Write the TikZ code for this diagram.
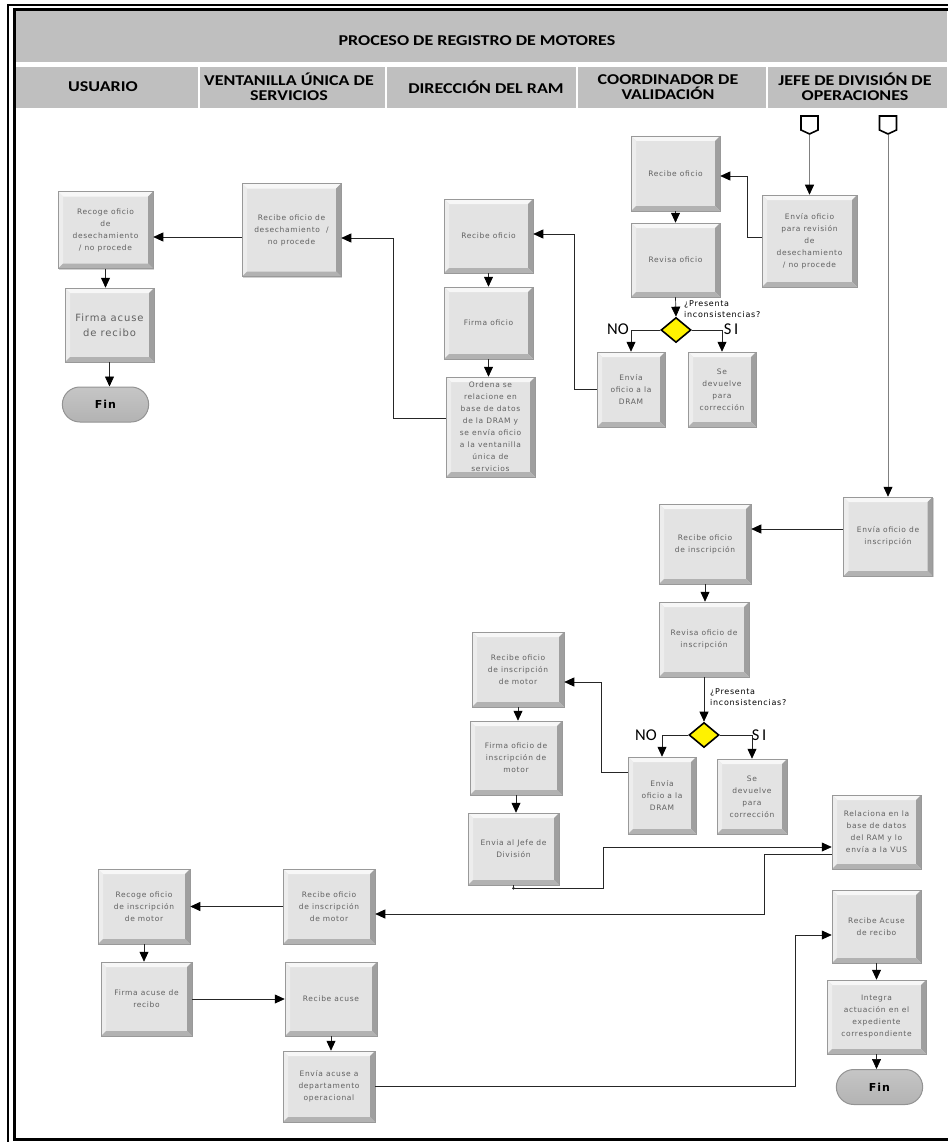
\documentclass[tikz,border=0pt]{standalone}
\usepackage{fontspec}
\newfontfamily\boxfont[LetterSpace=9]{DejaVu Sans}
\newfontfamily\headfont[FakeStretch=1.2]{Carlito}
\newfontfamily\sifont{Carlito}
\usetikzlibrary{positioning,calc,arrows.meta,shapes.geometric,shapes.misc,shapes.symbols,shadows}

\tikzset{
  bevel/.style={path picture={
    \path (path picture bounding box.south west) coordinate (bsw)
          (path picture bounding box.north east) coordinate (bne)
          (path picture bounding box.north west) coordinate (bnw)
          (path picture bounding box.south east) coordinate (bse);
    \fill[gray!6]  (bnw) -- (bne) -- ([shift={(-5pt,-5pt)}]bne) -- ([shift={(5pt,-5pt)}]bnw) -- cycle;
    \fill[gray!14] (bnw) -- (bsw) -- ([shift={(5pt,5pt)}]bsw) -- ([shift={(5pt,-5pt)}]bnw) -- cycle;
    \fill[gray!75] (bne) -- (bse) -- ([shift={(-5pt,5pt)}]bse) -- ([shift={(-5pt,-5pt)}]bne) -- cycle;
    \fill[gray!60] (bsw) -- (bse) -- ([shift={(-5pt,5pt)}]bse) -- ([shift={(5pt,5pt)}]bsw) -- cycle;
  }},
  proc/.style={rectangle, bevel, fill=gray!22, draw=gray!80, line width=.5pt,
    text=black!62, align=center, inner sep=1pt,
    font=\boxfont\fontsize{7.5}{12}\selectfont,
    drop shadow={shadow xshift=1.2pt, shadow yshift=-1.2pt, fill=gray!80, opacity=.45}},
  finbox/.style={rounded rectangle, draw=gray!85, line width=1pt,
    top color=gray!45, middle color=gray!4, bottom color=gray!60,
    font=\boxfont\bfseries\fontsize{11}{13}\selectfont,
    minimum width=93, minimum height=35},
  decision/.style={diamond, aspect=1.2, fill=yellow, draw=black, line width=1.6pt,
    minimum width=30, minimum height=25, inner sep=0},
  offpage/.style={signal, signal to=south, signal pointer angle=130, draw=black,
    line width=1.6pt, fill=white, minimum width=17, minimum height=14, inner sep=0},
  flow/.style={draw=black!85, line width=.7pt, -{Triangle[length=10pt,width=9pt,color=black]}},
  feed/.style={flow, draw=black!50},
  asklbl/.style={font=\boxfont\fontsize{8}{10.5}\selectfont, align=left, inner sep=0, text=black},
  yesno/.style={font=\sifont\fontsize{16.5}{17}\selectfont, inner sep=0},
  headtxt/.style={font=\headfont\bfseries\fontsize{15}{15}\selectfont, align=center, text=black}
}

\begin{document}
\begin{tikzpicture}[x=1pt,y=-1pt]
\useasboundingbox (0,0) rectangle (947,1142);
% marco y encabezado
\draw[line width=2pt] (960,5) -- (8,5) -- (8,1150);
\draw[line width=3pt] (960,9.5) -- (14,9.5) -- (14,1139) -- (960,1139);
\fill[gray!50] (15.5,11) rectangle (947,62);
\fill[gray!50] (15.5,67) rectangle (947,108);
\foreach \x in {199,386,577,767}
  \draw[white, line width=2.5pt] (\x,67) -- (\x,108);
\node[headtxt] (title) at (477,41) {PROCESO DE REGISTRO DE MOTORES};
\node[headtxt] (hUsu) at (103,87) {USUARIO};
\node[headtxt] (hVus) at (289,87) {VENTANILLA ÚNICA DE\\SERVICIOS};
\node[headtxt] (hRam) at (486,87) {DIRECCIÓN DEL RAM};
\node[headtxt] (hCoo) at (668,87) {COORDINADOR DE\\VALIDACIÓN};
\node[headtxt] (hJef) at (855,87) {JEFE DE DIVISIÓN DE\\OPERACIONES};

% desechamiento / no procede
\node[offpage] (startA) at (809.5,123) {};
\node[offpage] (startB) at (888,123) {};
\node[proc, minimum width=95, minimum height=92] (envjefeA) at (809.5,241) {Envía oficio\\para revisión\\de\\desechamiento\\/ no procede};
\node[proc, minimum width=89, minimum height=75] (reccoordA) at (675.5,173.5) {Recibe oficio};
\node[proc, minimum width=89, minimum height=74] (revcoordA) at (675.5,260) {Revisa oficio};
\node[decision] (decA) at (676,330) {};
\node[asklbl, anchor=west] (askA) at (684,309) {¿Presenta\\inconsistencias?};
\node[yesno] (noA) at (618,329) {NO};
\node[yesno] (siA) at (731,329) {S\,I};
\node[proc, minimum width=68, minimum height=75] (envdramA) at (631,389.5) {Envía\\oficio a la\\DRAM};
\node[proc, minimum width=68, minimum height=75] (devA) at (722,389.5) {Se\\devuelve\\para\\corrección};
\node[proc, minimum width=89, minimum height=74] (recdramA) at (488.5,236) {Recibe oficio};
\node[proc, minimum width=89, minimum height=72] (firdramA) at (488.5,323) {Firma oficio};
\node[proc, minimum width=89, minimum height=100] (ordena) at (490.5,427) {Ordena se\\relacione en\\base de datos\\de la DRAM y\\se envía oficio\\a la ventanilla\\única de\\servicios};
\node[proc, minimum width=99, minimum height=93] (recvusA) at (291.5,230) {Recibe oficio de\\desechamiento~~/\\no procede};
\node[proc, minimum width=95, minimum height=77] (recogeA) at (105.5,230) {Recoge oficio\\de\\desechamiento\\/ no procede};
\node[proc, minimum width=89, minimum height=74, font=\boxfont\fontsize{10}{15}\selectfont] (firmaA) at (109.5,325) {Firma acuse\\de recibo};
\node[finbox] (finA) at (105.5,404.5) {Fin};

\draw[feed] (startA.south) -- (envjefeA.north);
\draw[flow] ([yshift=4pt]envjefeA.west) -- ++(-14,0) |- ([yshift=-2.5pt]reccoordA.east);
\draw[flow] (reccoordA.south) -- (revcoordA.north);
\draw[flow] (revcoordA.south) -- (decA.north);
\draw[flow] (decA.west) -| (envdramA.north);
\draw[flow] (decA.east) -| (devA.north);
\draw[flow] (envdramA.west) -- ++(-22,0) |- ([yshift=2pt]recdramA.east);
\draw[flow] (recdramA.south) -- (firdramA.north);
\draw[flow] (firdramA.south) -- (firdramA.south |- ordena.north);
\draw[flow] ([yshift=9pt]ordena.west) -- ++(-52,0) |- ([yshift=-8pt]recvusA.east);
\draw[flow] ([yshift=-7pt]recvusA.west) -- ([yshift=-7pt]recogeA.east);
\draw[flow] (recogeA.south) -- (recogeA.south |- firmaA.north);
\draw[flow] (firmaA.south) -- (firmaA.south |- finA.north);

% inscripcion de motor
\node[proc, minimum width=89, minimum height=79] (envinsc) at (888,536.5) {Envía oficio de\\inscripción};
\node[proc, minimum width=92, minimum height=80] (recinsc) at (705,544) {Recibe oficio\\de inscripción};
\node[proc, minimum width=90, minimum height=75] (revinsc) at (704,639.5) {Revisa oficio de\\inscripción};
\node[decision] (decB) at (704,735) {};
\node[asklbl, anchor=west] (askB) at (710,697) {¿Presenta\\inconsistencias?};
\node[yesno] (noB) at (646,735) {NO};
\node[yesno] (siB) at (759,735) {S\,I};
\node[proc, minimum width=68, minimum height=77] (envdramB) at (662,795.5) {Envía\\oficio a la\\DRAM};
\node[proc, minimum width=70, minimum height=75] (devB) at (752,796.5) {Se\\devuelve\\para\\corrección};
\node[proc, minimum width=92, minimum height=75] (recdramB) at (518,669.5) {Recibe oficio\\de inscripción\\de motor};
\node[proc, minimum width=92, minimum height=74] (firdramB) at (516,758) {Firma oficio de\\inscripción de\\motor};
\node[proc, minimum width=91, minimum height=72] (envjefeB) at (513.5,849) {Envia al Jefe de\\División};
\node[proc, minimum width=89, minimum height=74] (relac) at (876.5,832) {Relaciona en la\\base de datos\\del RAM y lo\\envía a la VUS};
\node[proc, minimum width=92, minimum height=75] (recvusB) at (329,906.5) {Recibe oficio\\de inscripción\\de motor};
\node[proc, minimum width=92, minimum height=75] (recogeB) at (144,906.5) {Recoge oficio\\de inscripción\\de motor};
\node[proc, minimum width=91, minimum height=74] (firmaB) at (146.5,999) {Firma acuse de\\recibo};
\node[proc, minimum width=92, minimum height=74] (recacuse) at (331,999) {Recibe acuse};
\node[proc, minimum width=92, minimum height=71] (envacuse) at (329,1086.5) {Envía acuse a\\departamento\\operacional};
\node[proc, minimum width=89, minimum height=73] (recAcuse) at (876.5,926.5) {Recibe Acuse\\de recibo};
\node[proc, minimum width=99, minimum height=74] (integra) at (876.5,1017) {Integra\\actuación en el\\expediente\\correspondiente};
\node[finbox] (finB) at (879.5,1087) {Fin};

\draw[feed] (startB.south) -- (envinsc.north);
\draw[flow] ([yshift=7.5pt]envinsc.west) -- ([yshift=7.5pt]envinsc.west -| recinsc.east);
\draw[flow] (recinsc.south) -- (recinsc.south |- revinsc.north);
\draw[flow] (revinsc.south) -- (decB.north);
\draw[flow] (decB.west) -| (envdramB.north);
\draw[flow] (decB.east) -| (devB.north);
\draw[flow] ([yshift=23.5pt]envdramB.west) -- ++(-26,0) |- ([yshift=-12.5pt]recdramB.east);
\draw[flow] (recdramB.south) -- (recdramB.south |- firdramB.north);
\draw[flow] (firdramB.south) -- (firdramB.south |- envjefeB.north);
\fill[black] ([yshift=-3pt]envjefeB.south) circle (1.3pt);
\draw[flow] (envjefeB.south) -- ++(0,3) -- ++(89.5,0) |- ([yshift=-15pt]relac.west);
\draw[flow] ([yshift=-22pt]relac.west) -- ++(-67,0) |- ([yshift=-7.5pt]recvusB.east);
\draw[flow] (recvusB.west) -- (recogeB.east);
\draw[flow] (recogeB.south) -- (recogeB.south |- firmaB.north);
\draw[flow] (firmaB.east) -- (recacuse.west);
\draw[flow] (recacuse.south) -- (recacuse.south |- envacuse.north);
\draw[flow] (envacuse.east) -- ++(420,0) |- ([yshift=-8.5pt]recAcuse.west);
\draw[flow] (recAcuse.south) -- (recAcuse.south |- integra.north);
\draw[flow] (integra.south) -- (integra.south |- finB.north);
\end{tikzpicture}
\end{document}
